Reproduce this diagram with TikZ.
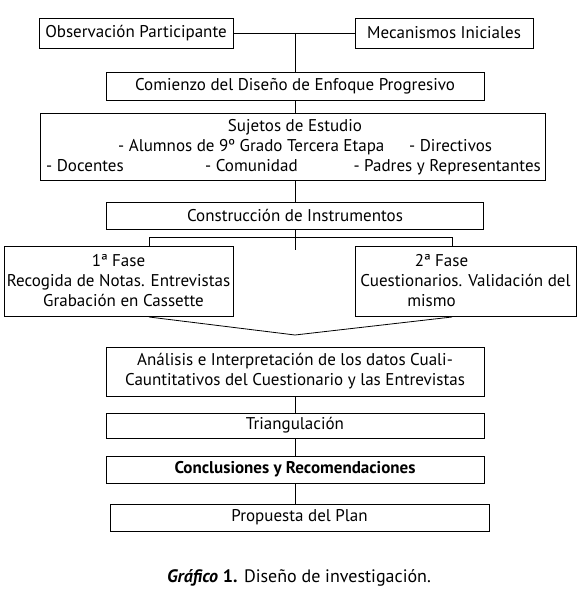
\documentclass[tikz,border=0pt]{standalone}
\usepackage{fontspec}
\setmainfont{PT Sans}
\newcommand\fsz{\fontsize{17}{20}\selectfont}
\begin{document}
\begin{tikzpicture}[x=1pt,y=-1pt,
  box/.style={draw, line width=0.8pt, inner sep=0pt, align=center, font=\fsz},
  txt/.style={inner sep=0pt, font=\fsz},
  ln/.style={line width=0.8pt}]
\useasboundingbox (0,0) rectangle (578,593);
% top row
\node[box, minimum width=194pt, minimum height=30pt] (obs) at (136,33) {Observación Participante};
\node[box, minimum width=178pt, minimum height=30pt] (mec) at (444,33) {Mecanismos Iniciales};
\node[box, minimum width=378pt, minimum height=28pt] (com) at (295,86) {Comienzo del Diseño de Enfoque Progresivo};
% sujetos
\node[box, minimum width=505pt, minimum height=67pt] (suj) at (292.5,146.5) {};
\node[txt, anchor=base] (s1) at (295,132) {Sujetos de Estudio};
\node[txt, anchor=base west] (s2) at (118,152) {- Alumnos de 9º Grado Tercera Etapa};
\node[txt, anchor=base west] (s3) at (409,152) {- Directivos};
\node[txt, anchor=base west] (s4) at (46,172) {- Docentes};
\node[txt, anchor=base west] (s5) at (205,172) {- Comunidad};
\node[txt, anchor=base east] (s6) at (541,172) {- Padres y Representantes};
% construccion
\node[box, minimum width=377pt, minimum height=27pt] (con) at (295,215.5) {Construcción de Instrumentos};
% fases
\node[box, minimum width=229pt, minimum height=70pt] (f1) at (118.5,281) {1ª Fase\\Recogida de Notas. Entrevistas\\\hspace*{10pt}Grabación en Cassette};
\node[box, minimum width=221pt, minimum height=70pt] (f2) at (465.5,281) {2ª Fase\hspace*{48pt}\\Cuestionarios. Validación del\\mismo\hspace*{68pt}};
% lower chain
\node[box, minimum width=378pt, minimum height=49pt] (an) at (295,371.5) {Análisis e Interpretación de los datos Cuali-\\Cauntitativos del Cuestionario y las Entrevistas};
\node[box, minimum width=378pt, minimum height=25pt] (tr) at (295,425.5) {Triangulación};
\node[box, minimum width=378pt, minimum height=27pt] (co) at (295,469.5) {\bfseries Conclusiones y Recomendaciones};
\node[box, minimum width=379pt, minimum height=27pt] (pr) at (299.5,517.5) {Propuesta del Plan};
% caption
\node[inner sep=0pt, font=\fontsize{18}{22}\selectfont] (cap) at (299,578) {{\bfseries\itshape Gráfico} {\bfseries 1.} Diseño de investigación.};
% connectors
\coordinate (j1) at (295,33);
\draw[ln] (obs.east) -- (mec.west);
\draw[ln] (j1) -- (com.north);
\draw[ln] (com.south) -- (com.south |- suj.north);
\draw[ln] (con.north |- suj.south) -- (con.north);
\coordinate (j2) at (295,250);
\coordinate (hl) at (149,237);
\coordinate (hr) at (452,237);
\draw[ln] (con.south) -- (j2);
\draw[ln] (hl |- f1.north) -- (hl) -- (hr) -- (hr |- f2.north);
\coordinate (vl) at (149,317);
\coordinate (vb) at (295,335);
\coordinate (vr) at (452,317);
\draw[ln] (vl) -- (vb) -- (vr);
\draw[ln] (an.south) -- (tr.north);
\draw[ln] (tr.south) -- (co.north);
\draw[ln] (co.south) -- (co.south |- pr.north);
\end{tikzpicture}
\end{document}
